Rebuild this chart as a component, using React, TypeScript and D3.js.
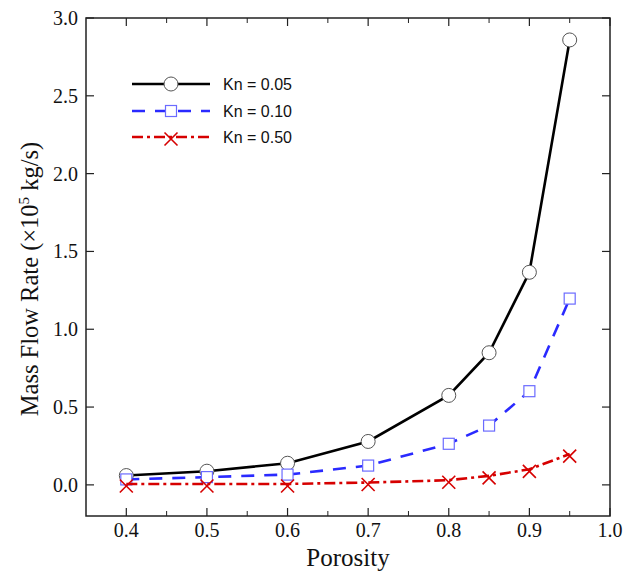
import React from "react";
import * as d3 from "d3";

const porosity = [0.4, 0.5, 0.6, 0.7, 0.8, 0.85, 0.9, 0.95];
const kn005 = [0.06, 0.088, 0.139, 0.279, 0.575, 0.849, 1.366, 2.859];
const kn010 = [0.035, 0.05, 0.066, 0.124, 0.264, 0.381, 0.602, 1.197];
const kn050 = [0.006, 0.006, 0.006, 0.015, 0.03, 0.058, 0.1, 0.198];
const seriesNames = ["Kn = 0.05", "Kn = 0.10", "Kn = 0.50"];
const xMajor = [0.4, 0.5, 0.6, 0.7, 0.8, 0.9, 1.0];
const xMinor = [0.45, 0.55, 0.65, 0.75, 0.85, 0.95];
const yMajor = [0.0, 0.5, 1.0, 1.5, 2.0, 2.5, 3.0];

const W = 624, H = 574;
const L = 86, R = 610, T = 18, B = 516;
const SERIF = "Liberation Serif, Times New Roman, serif";

export default function App() {
  const x = d3.scaleLinear().domain([0.35, 1.0]).range([L, R]);
  const y = d3.scaleLinear().domain([-0.2, 3.0]).range([B, T]);
  const line = d3.line<number>().x((_, i) => x(porosity[i])).y((d) => y(d));
  const series = [
    { vals: kn005, color: "#000", dash: undefined as string | undefined, marker: "circle" },
    { vals: kn010, color: "#2a2aff", dash: "13 10", marker: "square" },
    { vals: kn050, color: "#d60000", dash: "11 4 3 4", marker: "x" },
  ];
  const marker = (type: string, cx: number, cy: number, key: any) => {
    if (type === "circle")
      return <circle key={key} cx={cx} cy={cy} r={7} fill="#fff" stroke="#555" strokeWidth={1} />;
    if (type === "square")
      return <rect key={key} x={cx - 5.5} y={cy - 5.5} width={11} height={11} fill="#fff" stroke="#6b6bff" strokeWidth={1.2} />;
    const s = 6.5;
    const yy = cy + 2;
    return (
      <g key={key} stroke="#d60000" strokeWidth={1.6}>
        <line x1={cx - s} y1={yy - s} x2={cx + s} y2={yy + s} />
        <line x1={cx - s} y1={yy + s} x2={cx + s} y2={yy - s} />
      </g>
    );
  };
  const legendY = [84, 111, 137];
  return (
    <svg width={W} height={H} style={{ position: "absolute", left: 0, top: 0 }}>
      <rect width={W} height={H} fill="#fff" />
      <rect x={L} y={T} width={R - L} height={B - T} fill="none" stroke="#222" strokeWidth={1.5} />
      {xMajor.map((v) => (
        <g key={"xm" + v}>
          <line x1={x(v)} x2={x(v)} y1={B} y2={B - 8} stroke="#222" strokeWidth={1.2} />
          <line x1={x(v)} x2={x(v)} y1={T} y2={T + 8} stroke="#222" strokeWidth={1.2} />
          <text x={x(v)} y={537} textAnchor="middle" fontFamily={SERIF} fontSize={20} fill="#111">
            {v.toFixed(1)}
          </text>
        </g>
      ))}
      {xMinor.map((v) => (
        <g key={"xn" + v}>
          <line x1={x(v)} x2={x(v)} y1={B} y2={B - 5} stroke="#222" strokeWidth={1} />
          <line x1={x(v)} x2={x(v)} y1={T} y2={T + 5} stroke="#222" strokeWidth={1} />
        </g>
      ))}
      {yMajor.map((v) => (
        <g key={"ym" + v}>
          <line x1={L} x2={L + 8} y1={y(v)} y2={y(v)} stroke="#222" strokeWidth={1.2} />
          <line x1={R} x2={R - 8} y1={y(v)} y2={y(v)} stroke="#222" strokeWidth={1.2} />
          <text x={78} y={y(v) + 7} textAnchor="end" fontFamily={SERIF} fontSize={20} fill="#111">
            {v.toFixed(1)}
          </text>
        </g>
      ))}
      <text x={348} y={566} textAnchor="middle" fontFamily={SERIF} fontSize={25} fill="#111">
        Porosity
      </text>
      <text transform={`translate(38,${(T + B) / 2 + 12}) rotate(-90)`} textAnchor="middle" fontFamily={SERIF} fontSize={24.5} fill="#111">
        Mass Flow Rate (×10<tspan dy={-9} fontSize={15}>5</tspan><tspan dy={9}> kg/s)</tspan>
      </text>
      {series.map((s, si) => (
        <g key={"s" + si}>
          <path d={line(s.vals) || ""} fill="none" stroke={s.color} strokeWidth={2.6} strokeDasharray={s.dash} />
          {s.vals.map((v, i) => marker(s.marker, x(porosity[i]), y(v), i))}
        </g>
      ))}
      {series.map((s, si) => (
        <g key={"l" + si}>
          <line x1={132} x2={210} y1={legendY[si]} y2={legendY[si]} stroke={s.color} strokeWidth={2.6} strokeDasharray={s.dash} />
          {marker(s.marker, 171, legendY[si], "m")}
          <text x={223} y={legendY[si] + 6} fontFamily="Liberation Sans, Arial, sans-serif" fontSize={16} fill="#111">
            {seriesNames[si]}
          </text>
        </g>
      ))}
    </svg>
  );
}
